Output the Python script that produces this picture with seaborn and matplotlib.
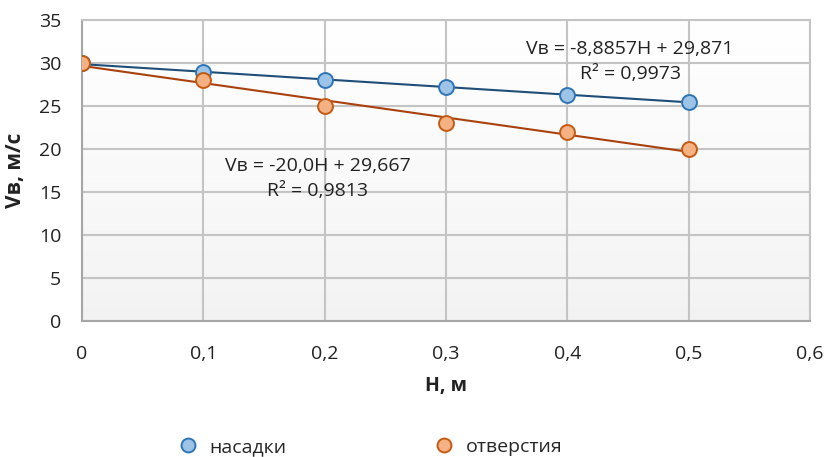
import numpy as np
import pandas as pd
import matplotlib
matplotlib.use("Agg")
import matplotlib.pyplot as plt
from matplotlib.lines import Line2D
from matplotlib.colors import LinearSegmentedColormap
import seaborn as sns

# ---- data ----
H = [0.0, 0.1, 0.2, 0.3, 0.4, 0.5]
v_nasadki = [30.0, 29.0, 28.0, 27.2, 26.3, 25.5]
v_otverstia = [30.0, 28.0, 25.0, 23.0, 22.0, 20.0]
series_names = ["насадки", "отверстия"]
trend_slopes = [-8.8857, -20.0]
trend_intercepts = [29.871, 29.667]
eq_texts = ["Vв = -8,8857H + 29,871\nR² = 0,9973", "Vв = -20,0H + 29,667\nR² = 0,9813"]
x_ticks = [0, 0.1, 0.2, 0.3, 0.4, 0.5, 0.6]
x_ticklabels = ["0", "0,1", "0,2", "0,3", "0,4", "0,5", "0,6"]
y_ticks = [0, 5, 10, 15, 20, 25, 30, 35]
y_ticklabels = ["0", "5", "10", "15", "20", "25", "30", "35"]

sns.set_theme(style="white")
plt.rcParams["font.family"] = ["Open Sans", "DejaVu Sans"]

fig = plt.figure(figsize=(8.25, 4.57), dpi=100)
ax = fig.add_axes([0.0994, 0.2976, 0.8826, 0.6586])

# gradient background (light at top, faint grey at bottom)
grad = np.linspace(1.0, 0.0, 256).reshape(-1, 1) ** 0.8
cmap = LinearSegmentedColormap.from_list("bg", ["#F2F2F2", "#FFFFFF"])
ax.imshow(grad, extent=[0, 1, 0, 1], transform=ax.transAxes, aspect="auto",
          cmap=cmap, vmin=0, vmax=1, zorder=0)

df = pd.DataFrame({
    "H": H * 2,
    "V": v_nasadki + v_otverstia,
    "series": [series_names[0]] * len(H) + [series_names[1]] * len(H),
})

fills = ["#9DC3E6", "#F4B183"]
edges = ["#2E75B6", "#C55A11"]
line_cols = ["#1F4E79", "#A9410E"]

# trend lines
xs = np.array([H[0], H[-1]])
for i, name in enumerate(series_names):
    tdf = pd.DataFrame({"H": xs, "V": trend_slopes[i] * xs + trend_intercepts[i]})
    sns.lineplot(data=tdf, x="H", y="V", ax=ax, color=line_cols[i], linewidth=1.5, zorder=3)

for i, name in enumerate(series_names):
    sub = df[df["series"] == name]
    sns.scatterplot(data=sub, x="H", y="V", ax=ax, color=fills[i], edgecolor=edges[i],
                    linewidth=1.4, s=115, zorder=4 + i)

ax.set_xlim(0, 0.6)
ax.set_ylim(0, 35)
ax.set_xticks(x_ticks)
ax.set_xticklabels(x_ticklabels)
ax.set_yticks(y_ticks)
ax.set_yticklabels(y_ticklabels)
ax.grid(True, color="#C4C4C4", linewidth=1.5, zorder=1)
ax.set_axisbelow(True)
for sp in ax.spines.values():
    sp.set_color("#C4C4C4")
    sp.set_linewidth(1.5)
ax.spines["left"].set_color("#A6A6A6")
ax.spines["bottom"].set_color("#A6A6A6")
ax.tick_params(axis="both", length=0, labelsize=14, colors="#222222")
ax.tick_params(axis="x", pad=17)
ax.tick_params(axis="y", pad=15)

ax.set_xlabel("Н, м", fontsize=14, fontweight="bold", labelpad=10, color="#222222")
ax.set_ylabel("Vв, м/с", fontsize=15, fontweight="bold", labelpad=9, color="#222222")

ax.text(0.4517, 30.2, eq_texts[0], ha="center", va="center", fontsize=14,
        color="#222222", linespacing=1.5, zorder=6)
ax.text(0.194, 16.6, eq_texts[1], ha="center", va="center", fontsize=14,
        color="#222222", linespacing=1.5, zorder=6)

handles = [Line2D([], [], linestyle="none", marker="o", markersize=10,
                  markerfacecolor=fills[i], markeredgecolor=edges[i], markeredgewidth=1.4)
           for i in range(2)]
fig.legend(handles, series_names, loc="center", bbox_to_anchor=(0.449, 0.022),
           ncol=2, frameon=False, fontsize=14, columnspacing=7.6,
           handlelength=1.0, handletextpad=0.6)

fig.savefig("out.png", dpi=100, facecolor="white")
